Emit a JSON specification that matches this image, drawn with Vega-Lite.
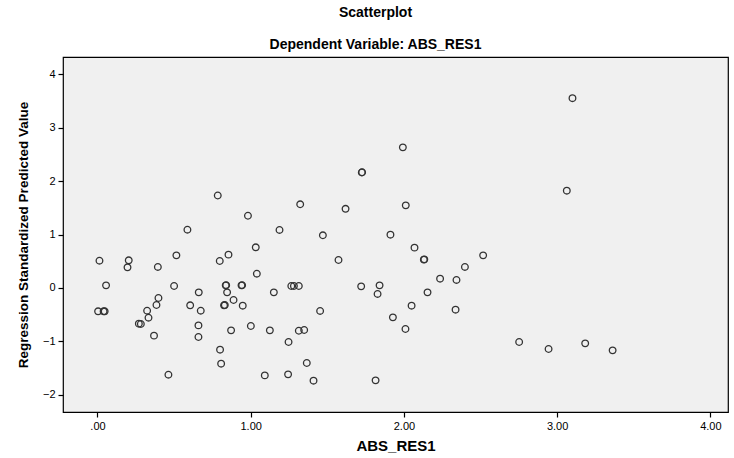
{
  "$schema": "https://vega.github.io/schema/vega-lite/v6.json",
  "width": 665,
  "height": 355,
  "autosize": "none",
  "padding": {"left": 63, "top": 57, "right": 6, "bottom": 46},
  "background": "white",
  "config": {
    "font": "Liberation Sans",
    "view": {"fill": "#f0f0f0", "stroke": "#000000", "strokeWidth": 1.2}
  },
  "title": {
    "text": "Scatterplot",
    "subtitle": "Dependent Variable: ABS_RES1",
    "fontSize": 14,
    "fontWeight": "bold",
    "subtitleFontSize": 14,
    "subtitleFontWeight": "bold",
    "subtitleColor": "#000000",
    "color": "#000000",
    "subtitlePadding": 18,
    "offset": 5,
    "anchor": "middle",
    "dx": -20
  },
  "data": {
    "values": [
      {"ABS_RES1": 0.587, "PRED": 1.09},
      {"ABS_RES1": 0.785, "PRED": 1.73},
      {"ABS_RES1": 0.982, "PRED": 1.35},
      {"ABS_RES1": 1.188, "PRED": 1.085},
      {"ABS_RES1": 1.323, "PRED": 1.565},
      {"ABS_RES1": 1.471, "PRED": 0.985},
      {"ABS_RES1": 1.619, "PRED": 1.48},
      {"ABS_RES1": 1.725, "PRED": 2.16},
      {"ABS_RES1": 1.727, "PRED": 2.165},
      {"ABS_RES1": 1.993, "PRED": 2.63},
      {"ABS_RES1": 1.912, "PRED": 0.997},
      {"ABS_RES1": 3.10, "PRED": 3.55},
      {"ABS_RES1": 3.063, "PRED": 1.82},
      {"ABS_RES1": 2.012, "PRED": 1.545},
      {"ABS_RES1": 0.013, "PRED": 0.51},
      {"ABS_RES1": 0.204, "PRED": 0.517},
      {"ABS_RES1": 0.196, "PRED": 0.386},
      {"ABS_RES1": 0.394, "PRED": 0.393},
      {"ABS_RES1": 0.515, "PRED": 0.61},
      {"ABS_RES1": 0.798, "PRED": 0.505},
      {"ABS_RES1": 0.855, "PRED": 0.623},
      {"ABS_RES1": 1.033, "PRED": 0.76},
      {"ABS_RES1": 1.040, "PRED": 0.267},
      {"ABS_RES1": 1.573, "PRED": 0.523},
      {"ABS_RES1": 0.056, "PRED": 0.049},
      {"ABS_RES1": 0.500, "PRED": 0.037},
      {"ABS_RES1": 0.661, "PRED": -0.082},
      {"ABS_RES1": 0.837, "PRED": 0.049},
      {"ABS_RES1": 0.840, "PRED": 0.052},
      {"ABS_RES1": 0.846, "PRED": -0.082},
      {"ABS_RES1": 0.940, "PRED": 0.049},
      {"ABS_RES1": 0.944, "PRED": 0.052},
      {"ABS_RES1": 1.151, "PRED": -0.082},
      {"ABS_RES1": 1.265, "PRED": 0.037},
      {"ABS_RES1": 1.282, "PRED": 0.037},
      {"ABS_RES1": 1.314, "PRED": 0.037},
      {"ABS_RES1": 1.721, "PRED": 0.03},
      {"ABS_RES1": 1.841, "PRED": 0.049},
      {"ABS_RES1": 1.828, "PRED": -0.112},
      {"ABS_RES1": 0.398, "PRED": -0.187},
      {"ABS_RES1": 0.385, "PRED": -0.318},
      {"ABS_RES1": 0.605, "PRED": -0.325},
      {"ABS_RES1": 0.674, "PRED": -0.425},
      {"ABS_RES1": 0.826, "PRED": -0.325},
      {"ABS_RES1": 0.831, "PRED": -0.320},
      {"ABS_RES1": 0.888, "PRED": -0.225},
      {"ABS_RES1": 0.948, "PRED": -0.331},
      {"ABS_RES1": 0.004, "PRED": -0.437},
      {"ABS_RES1": 0.040, "PRED": -0.437},
      {"ABS_RES1": 0.047, "PRED": -0.437},
      {"ABS_RES1": 0.324, "PRED": -0.425},
      {"ABS_RES1": 0.333, "PRED": -0.556},
      {"ABS_RES1": 0.270, "PRED": -0.668},
      {"ABS_RES1": 0.283, "PRED": -0.674},
      {"ABS_RES1": 0.369, "PRED": -0.892},
      {"ABS_RES1": 0.659, "PRED": -0.70},
      {"ABS_RES1": 0.659, "PRED": -0.917},
      {"ABS_RES1": 0.872, "PRED": -0.793},
      {"ABS_RES1": 1.001, "PRED": -0.711},
      {"ABS_RES1": 1.125, "PRED": -0.793},
      {"ABS_RES1": 1.314, "PRED": -0.80},
      {"ABS_RES1": 1.349, "PRED": -0.786},
      {"ABS_RES1": 1.453, "PRED": -0.43},
      {"ABS_RES1": 1.247, "PRED": -1.01},
      {"ABS_RES1": 1.928, "PRED": -0.55},
      {"ABS_RES1": 0.800, "PRED": -1.154},
      {"ABS_RES1": 0.807, "PRED": -1.416},
      {"ABS_RES1": 1.366, "PRED": -1.403},
      {"ABS_RES1": 0.463, "PRED": -1.622},
      {"ABS_RES1": 1.092, "PRED": -1.635},
      {"ABS_RES1": 1.244, "PRED": -1.616},
      {"ABS_RES1": 1.410, "PRED": -1.734},
      {"ABS_RES1": 1.815, "PRED": -1.728},
      {"ABS_RES1": 2.069, "PRED": 0.754},
      {"ABS_RES1": 2.130, "PRED": 0.53},
      {"ABS_RES1": 2.133, "PRED": 0.535},
      {"ABS_RES1": 2.517, "PRED": 0.61},
      {"ABS_RES1": 2.398, "PRED": 0.393},
      {"ABS_RES1": 2.236, "PRED": 0.174},
      {"ABS_RES1": 2.343, "PRED": 0.15},
      {"ABS_RES1": 2.154, "PRED": -0.082},
      {"ABS_RES1": 2.050, "PRED": -0.331},
      {"ABS_RES1": 2.337, "PRED": -0.406},
      {"ABS_RES1": 2.010, "PRED": -0.767},
      {"ABS_RES1": 2.752, "PRED": -1.01},
      {"ABS_RES1": 2.944, "PRED": -1.141},
      {"ABS_RES1": 3.183, "PRED": -1.036},
      {"ABS_RES1": 3.362, "PRED": -1.167}
    ]
  },
  "mark": {
    "type": "point",
    "shape": "circle",
    "filled": false,
    "stroke": "#333333",
    "strokeWidth": 1.3,
    "size": 44,
    "opacity": 1
  },
  "encoding": {
    "x": {
      "field": "ABS_RES1",
      "type": "quantitative",
      "scale": {"domain": [-0.225, 4.115], "nice": false, "zero": false},
      "axis": {
        "title": "ABS_RES1",
        "values": [0, 1, 2, 3, 4],
        "labelExpr": "datum.value == 0 ? '.00' : format(datum.value, '.2f')",
        "grid": false,
        "domain": false,
        "tickColor": "#000000",
        "tickSize": 5,
        "tickWidth": 1.2,
        "labelColor": "#000000",
        "labelFontSize": 11,
        "labelPadding": 3,
        "titleFontSize": 15,
        "titleFontWeight": "bold",
        "titleColor": "#000000",
        "titlePadding": 7
      }
    },
    "y": {
      "field": "PRED",
      "type": "quantitative",
      "scale": {"domain": [-2.32, 4.32], "nice": false, "zero": false},
      "axis": {
        "title": "Regression Standardized Predicted Value",
        "values": [-2, -1, 0, 1, 2, 3, 4],
        "format": "d",
        "grid": false,
        "domain": false,
        "tickColor": "#000000",
        "tickSize": 5,
        "tickWidth": 1.2,
        "labelColor": "#000000",
        "labelFontSize": 11,
        "labelPadding": 3,
        "titleFontSize": 13.5,
        "titleFontWeight": "bold",
        "titleColor": "#000000",
        "titlePadding": 12
      }
    }
  }
}
